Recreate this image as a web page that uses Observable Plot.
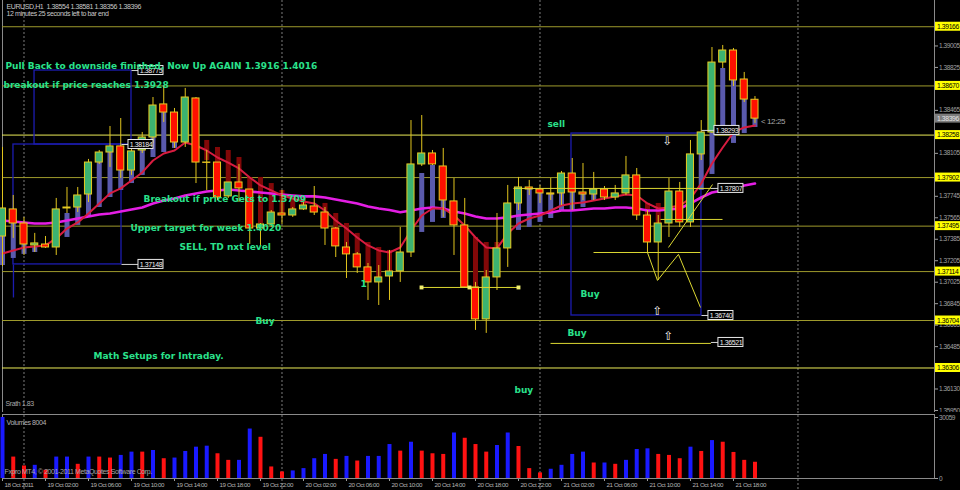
<!DOCTYPE html>
<html>
<head>
<meta charset="utf-8">
<script src="https://cdn.jsdelivr.net/npm/d3@7"></script>
<script src="https://cdn.jsdelivr.net/npm/@observablehq/plot@0.6"></script>
<style>
  html, body { margin: 0; padding: 0; background: #000; }
  #chart { position: relative; width: 960px; height: 490px; background: #000; overflow: hidden; }
  #chart svg { position: absolute; left: 0; }
  /* terminal-style captions are tight; the bold notes keep normal spacing */
  #chart g[font-family*="DejaVu"] { letter-spacing: 0; }
</style>
</head>
<body>
<div id="chart"></div>
<script>
// EURUSD H1, 18 Oct 2011 22:00 .. 21 Oct 2011 20:00 (bar index 0..70)
const open = [1.37408,1.37635,1.37517,1.37333,1.37341,1.37316,1.37643,1.37651,1.37760,1.38028,
  1.38112,1.38163,1.37961,1.38129,1.38238,1.38515,1.38447,1.38196,1.38565,1.38028,
  1.38028,1.37744,1.37861,1.37802,1.37475,1.37509,1.37601,1.37584,1.37635,1.37660,
  1.37609,1.37475,1.37316,1.37258,1.37149,1.37023,1.37073,1.37115,1.37274,1.38012,
  1.38104,1.37995,1.37702,1.37501,1.36981,1.36713,1.37065,1.37308,1.37685,1.37819,
  1.37802,1.37769,1.37769,1.37936,1.37777,1.37760,1.37802,1.37735,1.37769,1.37920,
  1.37584,1.37358,1.37517,1.37785,1.37526,1.38096,1.38280,1.38866,1.38967,1.38724,
  1.38554];
const high = [1.38154,1.37752,1.37568,1.37434,1.37408,1.37727,1.37819,1.37819,1.38054,1.38129,
  1.38330,1.38397,1.38213,1.38280,1.38573,1.38665,1.38481,1.38649,1.38573,1.38129,
  1.38028,1.37861,1.38012,1.37802,1.37517,1.37626,1.37794,1.37651,1.37693,1.37827,
  1.37651,1.37484,1.37358,1.37274,1.37182,1.37165,1.37291,1.37484,1.38380,1.38422,
  1.38129,1.38146,1.37894,1.37727,1.37023,1.37123,1.37601,1.37836,1.37903,1.37878,
  1.37836,1.37894,1.37953,1.38062,1.38020,1.37945,1.37827,1.37836,1.38079,1.37978,
  1.37626,1.37584,1.37894,1.37861,1.38213,1.38380,1.38992,1.39009,1.38984,1.38783,
  1.38581];
const low = [1.37157,1.37392,1.37249,1.37274,1.37308,1.37249,1.37601,1.37609,1.37693,1.38012,
  1.37987,1.37894,1.37920,1.38104,1.38188,1.38364,1.38146,1.38154,1.37852,1.37794,
  1.37710,1.37727,1.37693,1.37341,1.37333,1.37484,1.37509,1.37568,1.37626,1.37584,
  1.37333,1.37232,1.37056,1.37098,1.36872,1.36830,1.36872,1.37023,1.37232,1.37995,
  1.38003,1.37568,1.37249,1.36973,1.36621,1.36596,1.36956,1.37149,1.37626,1.37752,
  1.37685,1.37710,1.37668,1.37626,1.37710,1.37710,1.37710,1.37710,1.37752,1.37542,
  1.37266,1.37040,1.37400,1.37484,1.37484,1.38045,1.38271,1.38816,1.38665,1.38531,
  1.38356];
const close = [1.37643,1.37517,1.37341,1.37350,1.37316,1.37635,1.37651,1.37752,1.38028,1.38112,
  1.38163,1.37961,1.38121,1.38238,1.38506,1.38447,1.38196,1.38573,1.38028,1.38025,
  1.37735,1.37861,1.37811,1.37475,1.37509,1.37609,1.37584,1.37635,1.37668,1.37609,
  1.37475,1.37325,1.37258,1.37149,1.37023,1.37065,1.37115,1.37274,1.38012,1.38104,
  1.38012,1.37710,1.37501,1.36981,1.36713,1.37065,1.37308,1.37685,1.37819,1.37802,
  1.37769,1.37760,1.37936,1.37777,1.37760,1.37802,1.37735,1.37769,1.37920,1.37584,
  1.37358,1.37517,1.37785,1.37526,1.38096,1.38280,1.38866,1.38967,1.38716,1.38556,
  1.38396];

// Heiken Ashi body (open, close); null where hidden behind the candle
const haOpen = [1.37165,1.37224,1.37258,1.37274,null,null,1.37400,1.37501,1.37568,1.37651,
  1.37735,1.37794,1.37852,1.37920,1.38070,1.38112,1.38146,null,null,1.38213,
  1.38154,1.38129,1.38070,1.37903,1.37903,1.37852,1.37794,1.37752,1.37727,null,
  1.37685,1.37601,1.37517,1.37434,1.37358,1.37316,1.37291,null,null,1.37442,
  1.37526,1.37559,null,null,1.37400,1.37358,1.37358,null,1.37459,1.37484,
  1.37526,1.37559,1.37626,1.37626,1.37651,1.37710,null,null,null,null,
  1.37685,1.37685,null,null,null,1.37794,1.37928,1.38322,1.38188,1.38271,
  1.38322];
const haClose = [1.37408,1.37517,1.37341,1.37316,null,null,1.37601,1.37651,1.37760,1.38028,
  1.38112,1.37961,1.37961,1.38129,1.38238,1.38447,1.38196,null,null,1.38045,
  1.38028,1.37852,1.37861,1.37802,1.37517,1.37609,1.37601,1.37635,1.37668,null,
  1.37609,1.37475,1.37316,1.37258,1.37149,1.37065,1.37115,null,null,1.37936,
  1.38003,1.37710,null,null,1.36981,1.37065,1.37308,null,1.37685,1.37802,
  1.37769,1.37760,1.37769,1.37777,1.37760,1.37760,null,null,null,null,
  1.37584,1.37517,null,null,null,1.38096,1.38280,1.38816,1.38716,1.38556,
  1.38397];

// Moving averages
const maFast = [1.37266,1.37291,1.37316,1.37325,1.37333,1.37392,1.37475,1.37526,1.37601,1.37685,
  1.37769,1.37811,1.37878,1.37945,1.38045,1.38104,1.38129,1.38196,1.38171,1.38129,
  1.38070,1.38028,1.37978,1.37903,1.37836,1.37794,1.37752,1.37727,1.37702,1.37685,
  1.37626,1.37542,1.37475,1.37400,1.37333,1.37291,1.37274,1.37316,1.37459,1.37584,
  1.37643,1.37643,1.37584,1.37501,1.37400,1.37316,1.37308,1.37434,1.37517,1.37559,
  1.37584,1.37626,1.37668,1.37685,1.37693,1.37710,1.37727,1.37744,1.37760,1.37752,
  1.37685,1.37643,1.37651,1.37668,1.37727,1.37852,1.38020,1.38154,1.38280,1.38322,
  1.38339];
const maSlow = [1.37542,1.37534,1.37526,1.37517,1.37517,1.37526,1.37542,1.37559,1.37576,1.37593,
  1.37601,1.37618,1.37635,1.37651,1.37685,1.37710,1.37727,1.37752,1.37769,1.37785,
  1.37794,1.37802,1.37794,1.37785,1.37777,1.37769,1.37760,1.37752,1.37744,1.37744,
  1.37735,1.37718,1.37702,1.37685,1.37660,1.37643,1.37630,1.37612,1.37626,1.37643,
  1.37651,1.37643,1.37618,1.37601,1.37576,1.37559,1.37559,1.37568,1.37584,1.37593,
  1.37601,1.37609,1.37626,1.37626,1.37635,1.37643,1.37643,1.37651,1.37651,1.37643,
  1.37626,1.37626,1.37635,1.37643,1.37685,1.37735,1.37777,1.37794,1.37811,1.37836,
  1.37852];

// Tick volumes, 1 = higher than previous bar
const volume = [30059,10560,6175,6500,4060,10560,10560,6990,10560,10560,
  10075,11375,13000,13000,13810,9750,10075,13325,15440,15925,
  12190,8940,8940,24375,20310,5690,3250,3740,4875,9750,
  11860,9425,10890,8610,10890,10890,16740,13490,17875,13490,
  12190,11860,22425,19825,16740,13000,16250,22425,15760,4875,
  2760,4550,6500,11860,13000,7640,7640,6990,8940,14300,
  14625,11860,11375,9750,15440,13325,18690,17875,12840,8940,
  8004];
const volumeUp = [1,0,0,1,0,1,1,0,1,0, 0,1,1,0,1,0,1,1,1,1, 0,0,1,1,0,0,0,1,1,1,
  1,0,1,0,1,1,1,0,1,0, 0,0,1,0,0,0,1,1,0,0, 0,1,1,1,1,0,1,0,1,1,
  1,0,0,0,1,0,1,0,0,0, 0];

// Horizontal levels and their axis tags
const levels = [1.39166, 1.38670, 1.38258, 1.37902, 1.37495, 1.37114, 1.36704, 1.36306];
const levelStrong = [false, false, true, false, false, false, false, true];
const lastPrice = 1.38396;

const priceTicks = [1.35950,1.36130,1.36305,1.36485,1.36665,1.36845,1.37025,1.37205,1.37385,1.37565,
  1.37745,1.37925,1.38105,1.38285,1.38465,1.38645,1.38825,1.39005,1.39185];
const timeTickBars = [0,4,8,12,16,20,24,28,32,36,40,44,48,52,56,60,64,68];
const timeTickLabels = ["18 Oct 2011","19 Oct 02:00","19 Oct 06:00","19 Oct 10:00","19 Oct 14:00",
  "19 Oct 18:00","19 Oct 22:00","20 Oct 02:00","20 Oct 06:00","20 Oct 10:00","20 Oct 14:00",
  "20 Oct 18:00","20 Oct 22:00","21 Oct 02:00","21 Oct 06:00","21 Oct 10:00","21 Oct 14:00","21 Oct 18:00"];
const daySeparators = [2, 26, 50, 74];

// Drawn objects (bar index, price)
const notes = [
  {t: "Pull Back to downside finished, Now Up AGAIN 1.3916 1.4016", i: 0.28, p: 1.38833},
  {t: "breakout if price reaches 1.3928", i: 0.09, p: 1.38674},
  {t: "Breakout if price Gets to 1.3709", i: 13.12, p: 1.37718},
  {t: "Upper target for week 1.4020", i: 11.91, p: 1.37475},
  {t: "SELL, TD nxt level", i: 16.47, p: 1.37316},
  {t: "Buy", i: 23.53, p: 1.36696},
  {t: "Math Setups for Intraday.", i: 8.47, p: 1.36403},
  {t: "sell", i: 50.7, p: 1.38347},
  {t: "Buy", i: 53.77, p: 1.36922},
  {t: "Buy", i: 52.56, p: 1.36596},
  {t: "buy", i: 47.63, p: 1.36118},
  {t: "1", i: 33.3, p: 1.37006}
];
const boxes = [
  {i1: 2.98, i2: 12.0, p1: 1.38179, p2: 1.38799},
  {i1: 1.02, i2: 11.07, p1: 1.37174, p2: 1.38179},
  {i1: 52.93, i2: 65.02, p1: 1.36746, p2: 1.38271}
];
const blueSegments = [
  {i1: 1.02, p1: 1.37174, i2: 1.02, p2: 1.36897}
];
const trendSegments = [
  {i1: 38.98, p1: 1.36981, i2: 48.0, p2: 1.36981},
  {i1: 54.98, p1: 1.37274, i2: 64.93, p2: 1.37274},
  {i1: 60.0, p1: 1.37274, i2: 60.93, p2: 1.37040},
  {i1: 60.93, p1: 1.37040, i2: 62.88, p2: 1.37258},
  {i1: 62.88, p1: 1.37258, i2: 64.93, p2: 1.36813},
  {i1: 61.95, p1: 1.37316, i2: 66.05, p2: 1.37844},
  {i1: 61.21, p1: 1.37551, i2: 66.98, p2: 1.37551},
  {i1: 47.53, p1: 1.37811, i2: 65.9, p2: 1.37811},
  {i1: 50.98, p1: 1.36512, i2: 65.9, p2: 1.36512}
];
const trendPoints = [
  {i: 38.98, p: 1.36981}, {i: 43.44, p: 1.36981}, {i: 48.0, p: 1.36981}
];
const arrows = [
  {t: "⇩", i: 61.86, p: 1.38204},
  {t: "⇧", i: 60.93, p: 1.36780},
  {t: "⇧", i: 61.95, p: 1.36570}
];
const priceTags = [
  {t: "1.38775", i: 12.65, p: 1.38799, from: 12.0},
  {t: "1.38184", i: 11.72, p: 1.38179, from: 11.07},
  {t: "1.37148", i: 12.65, p: 1.37174, from: 11.07},
  {t: "1.38293", i: 66.23, p: 1.38297, from: 65.02},
  {t: "1.37807", i: 66.6, p: 1.37811, from: 65.9},
  {t: "1.36740", i: 65.67, p: 1.36746, from: 65.02},
  {t: "1.36521", i: 66.6, p: 1.36520, from: 65.9}
];

// ---------------------------------------------------------------
const XMAX = 86.7;
const SMALL = '"Liberation Sans", Arial, sans-serif';
const NOTE_FONT = '"DejaVu Sans", Verdana, sans-serif';
const GRID = "#8a8a8a";
const baseStyle = {background: "#000", color: "#a0a0a0", fontFamily: SMALL, fontSize: "6.5px",
  letterSpacing: "-0.4px", overflow: "visible"};

const bars = open.map((o, i) => ({i, o, h: high[i], l: low[i], c: close[i]}));
const ha = bars.filter(d => haOpen[d.i] != null).map(d => ({i: d.i, o: haOpen[d.i], c: haClose[d.i]}));
const levelRows = levels.map((p, k) => ({p, strong: levelStrong[k]}));
const volRows = volume.map((v, i) => ({i, v, up: volumeUp[i] === 1}));
const timeRows = timeTickBars.map((i, k) => ({i, t: timeTickLabels[k]}));
// axis ticks that sit under a level tag are left out
const axisTicks = priceTicks.filter(t => !levels.some(l => Math.abs(l - t) < 0.0003));

const main = Plot.plot({
  width: 960, height: 412,
  marginTop: 0, marginBottom: 0, marginLeft: 2, marginRight: 26,
  style: baseStyle,
  x: {type: "linear", domain: [0, XMAX], axis: null},
  y: {domain: [1.35933, 1.39386], axis: "right", ticks: axisTicks, tickFormat: d3.format(".5f"),
      tickSize: 3, tickPadding: 1.5, label: null},
  marks: [
    Plot.frame({stroke: GRID, insetTop: -3}),
    Plot.ruleX(daySeparators, {stroke: "#7c7c7c", strokeDasharray: "2,2"}),
    Plot.ruleY(levelRows, {y: "p", stroke: d => d.strong ? "#ecec58" : "#9e9a2c", strokeWidth: 1}),
    Plot.rect(boxes, {x1: "i1", x2: "i2", y1: "p1", y2: "p2", fill: "none", stroke: "#1c1cb0", strokeWidth: 1.3}),
    Plot.link(blueSegments, {x1: "i1", y1: "p1", x2: "i2", y2: "p2", stroke: "#1c1cb0", strokeWidth: 1.3}),
    // Heiken Ashi bodies
    Plot.ruleX(ha, {x: "i", y1: "o", y2: "c", stroke: d => d.c > d.o ? "#5a5aac" : "#820808", strokeWidth: 5}),
    // moving averages
    Plot.line(bars, {x: "i", y: d => maSlow[d.i], stroke: "#e41ee4", strokeWidth: 2.6}),
    Plot.line(bars, {x: "i", y: d => maFast[d.i], stroke: "#d81c40", strokeWidth: 2}),
    // candles
    Plot.ruleX(bars, {x: "i", y1: "l", y2: "h", stroke: "#e0c41e", strokeWidth: 1}),
    Plot.rect(bars, {x1: d => d.i - 0.33, x2: d => d.i + 0.33, y1: "o", y2: "c",
      fill: d => d.c >= d.o ? "#3cb371" : "#ff1000", stroke: "#e8cc22", strokeWidth: 1}),
    // trend lines
    Plot.link(trendSegments, {x1: "i1", y1: "p1", x2: "i2", y2: "p2", stroke: "#dcd832", strokeWidth: 1}),
    Plot.dot(trendPoints, {x: "i", y: "p", symbol: "square", r: 2.2, fill: "#f2f070", stroke: "none"}),
    Plot.text(arrows, {x: "i", y: "p", text: "t", fill: "#f4f4f4", fontSize: 12, fontFamily: NOTE_FONT}),
    // price tags of the drawn objects
    Plot.link(priceTags, {x1: "from", x2: "i", y1: "p", y2: "p", stroke: "#d8d8d8", strokeWidth: 1}),
    Plot.rect(priceTags, {x1: "i", x2: "i", y1: "p", y2: "p", insetLeft: 0, insetRight: -25,
      insetTop: -4.5, insetBottom: -4.5, fill: "#000", stroke: "#e8e8e8", strokeWidth: 1}),
    Plot.text(priceTags, {x: "i", y: "p", text: "t", dx: 12.5, fill: "#f0f0f0", fontSize: 7, fontFamily: SMALL}),
    // green text notes
    Plot.text(notes, {x: "i", y: "p", text: "t", textAnchor: "start", fill: "#2ae28c",
      fontWeight: "bold", fontSize: 9, fontFamily: NOTE_FONT}),
    // right axis tags for the levels and last price
    Plot.rect(levelRows, {x1: () => XMAX, x2: () => XMAX, y1: "p", y2: "p", insetLeft: 1, insetRight: -26,
      insetTop: -4.5, insetBottom: -4.5, fill: "#ffff00"}),
    Plot.text(levelRows, {x: () => XMAX, y: "p", text: d => d3.format(".5f")(d.p), dx: 2.5, textAnchor: "start",
      fill: "#000", fontSize: 6.8, fontFamily: SMALL}),
    Plot.rect([lastPrice], {x1: () => XMAX, x2: () => XMAX, y1: d => d, y2: d => d, insetLeft: 1, insetRight: -26,
      insetTop: -4.5, insetBottom: -4.5, fill: "#7c7c7c"}),
    Plot.text([lastPrice], {x: () => XMAX, y: d => d, text: d => d3.format(".5f")(d), dx: 2.5, textAnchor: "start",
      fill: "#e6e6e6", fontSize: 6.8, fontFamily: SMALL}),
    Plot.text(["< 12:25"], {x: () => 70, y: () => 1.38372, dx: 6, textAnchor: "start", fill: "#a8a8a8",
      fontSize: 8, fontFamily: SMALL}),
    // header and indicator captions
    Plot.text(["EURUSD,H1  1.38554 1.38581 1.38356 1.38396"], {frameAnchor: "top-left", dx: 4, dy: 4,
      fill: "#c8c8c8", fontSize: 7, fontFamily: SMALL}),
    Plot.text(["12 minutes 25 seconds left to bar end"], {frameAnchor: "top-left", dx: 4, dy: 11,
      fill: "#c8c8c8", fontSize: 7, fontFamily: SMALL}),
    Plot.text(["Srath 1.83"], {frameAnchor: "bottom-left", dx: 3, dy: -7,
      fill: "#a8a8a8", fontSize: 7, fontFamily: SMALL})
  ]
});
main.style.top = "0px";

const vol = Plot.plot({
  width: 960, height: 78,
  marginTop: 5, marginBottom: 12, marginLeft: 2, marginRight: 26,
  style: baseStyle,
  x: {type: "linear", domain: [0, XMAX], axis: "bottom", ticks: timeTickBars, tickFormat: () => "",
      tickSize: 3, label: null},
  y: {domain: [0, 30059], axis: "right", ticks: [0, 30059], tickFormat: d => String(d),
      tickSize: 3, tickPadding: 1.5, label: null},
  marks: [
    Plot.frame({stroke: GRID, insetTop: -3}),
    Plot.ruleX(daySeparators, {stroke: "#7c7c7c", strokeDasharray: "2,2", insetTop: -6, insetBottom: -12}),
    Plot.ruleX(volRows, {x: "i", y: "v", stroke: d => d.up ? "#1a1aff" : "#ff1212", strokeWidth: 4}),
    Plot.text(timeRows, {x: "i", y: () => 0, text: "t", dx: 2, dy: 6.5, textAnchor: "start",
      fill: "#b4b4b4", fontSize: 6.2, fontFamily: SMALL}),
    Plot.text(["Volumes 8004"], {frameAnchor: "top-left", dx: 4, dy: 3,
      fill: "#b4b4b4", fontSize: 7, fontFamily: SMALL}),
    Plot.text(["Fxpro MT4, © 2001-2011 MetaQuotes Software Corp."], {frameAnchor: "bottom-left", dx: 2, dy: -5,
      fill: "#a8a8a8", fontSize: 7, fontFamily: SMALL})
  ]
});
vol.style.top = "412px";

const chart = document.getElementById("chart");
chart.appendChild(main);
chart.appendChild(vol);
</script>
</body>
</html>
